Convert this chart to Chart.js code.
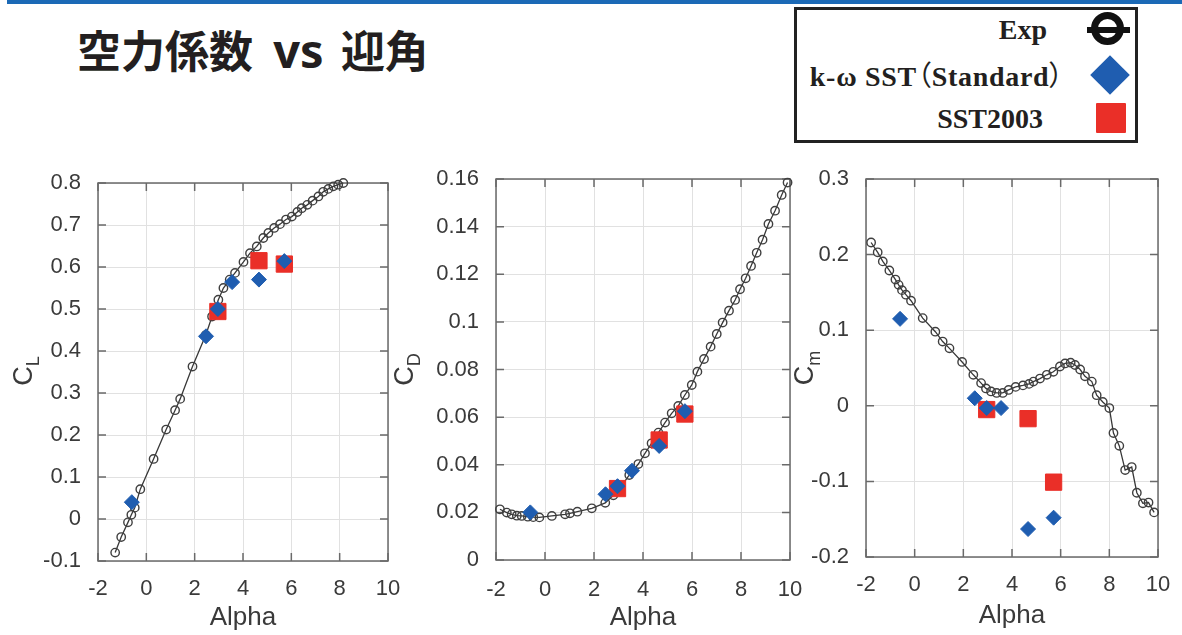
<!DOCTYPE html>
<html>
<head>
<meta charset="utf-8">
<script src="https://cdn.jsdelivr.net/npm/chart.js@4"></script>
<style>
  html, body { margin: 0; padding: 0; background: #fff; }
  body { width: 1182px; height: 635px; position: relative; overflow: hidden; }
  #topbar { position: absolute; left: 7px; top: 0; width: 1175px; height: 4px; background: #1b69b6; }
  #title { position: absolute; left: 77px; top: 27px; font-family: "Noto Sans CJK JP", sans-serif; font-weight: 700;
           font-size: 44px; line-height: 1; color: #231f20; white-space: nowrap; }
  #title .lat { font-family: "Noto Sans", sans-serif; font-size: 47px; margin-left: 8px; margin-right: 5px; }
  #legend { position: absolute; left: 794px; top: 7px; width: 338px; height: 130px; border: 3px solid #222; }
  .lg { position: absolute; font-family: "Liberation Serif", "Times New Roman", serif; font-weight: 700;
        font-size: 28px; line-height: 1; color: #231f20; white-space: nowrap; }
  .fw { font-family: "Noto Sans CJK JP", sans-serif; font-weight: 400; font-feature-settings: "palt" 1; }
  .mk { position: absolute; }
  canvas { position: absolute; }
</style>
</head>
<body>
<div id="topbar"></div>
<div id="title">空力係数<span class="lat"> vs </span>迎角</div>
<div id="legend"></div>
<div class="lg" style="right:135px; top:16px;">Exp</div>
<div class="lg" style="right:118px; top:60px; letter-spacing:0.7px;">k-ω SST<span class="fw">（</span>Standard<span class="fw">）</span></div>
<div class="lg" style="right:139px; top:105px;">SST2003</div>
<div class="mk" style="left:1091px; top:12px; width:19px; height:19px; border:7px solid #111; border-radius:50%;"></div>
<div class="mk" style="left:1087px; top:26.5px; width:43px; height:6px; background:#111;"></div>
<div class="mk" style="left:1096px; top:61px; width:28px; height:28px; background:#1f5db0; transform:rotate(45deg);"></div>
<div class="mk" style="left:1096px; top:103px; width:30px; height:30px; background:#ea2f28; border-radius:1px;"></div>

<script>
// Angle-of-attack tick values shared by the three plots
const alphaTicks = [-2, 0, 2, 4, 6, 8, 10];
const clTicks = [-0.1, 0, 0.1, 0.2, 0.3, 0.4, 0.5, 0.6, 0.7, 0.8];
const cdTicks = [0, 0.02, 0.04, 0.06, 0.08, 0.1, 0.12, 0.14, 0.16];
const cmTicks = [-0.2, -0.1, 0, 0.1, 0.2, 0.3];

// Experimental lift coefficient
const alphaExpCL = [-1.29, -1.04, -0.76, -0.62, -0.48, -0.25, 0.30, 0.82, 1.19, 1.40, 1.91, 2.46, 2.72, 2.98, 3.19,
  3.45, 3.67, 4.02, 4.29, 4.57, 4.84, 5.05, 5.29, 5.53, 5.78, 6.02, 6.25, 6.43, 6.66, 6.88, 7.12, 7.32, 7.53, 7.74, 7.94, 8.15];
const clExp = [-0.080, -0.043, -0.008, 0.010, 0.027, 0.071, 0.143, 0.213, 0.259, 0.286, 0.363, 0.438, 0.482, 0.522, 0.550,
  0.570, 0.586, 0.612, 0.633, 0.649, 0.669, 0.681, 0.693, 0.702, 0.713, 0.720, 0.731, 0.740, 0.748, 0.758, 0.768, 0.779, 0.786, 0.792, 0.796, 0.800];

// Experimental drag coefficient
const alphaExpCD = [-1.84, -1.56, -1.36, -1.15, -0.95, -0.70, -0.48, -0.23, 0.28, 0.82, 1.02, 1.32, 1.91, 2.46, 2.79,
  3.06, 3.44, 3.81, 4.08, 4.35, 4.63, 4.90, 5.17, 5.44, 5.71, 5.99, 6.22, 6.49, 6.76, 7.01, 7.25, 7.51, 7.76, 7.96,
  8.19, 8.41, 8.64, 8.88, 9.12, 9.39, 9.66, 9.90];
const cdExp = [0.0213, 0.0199, 0.0192, 0.0186, 0.0185, 0.0182, 0.0180, 0.0179, 0.0185, 0.0192, 0.0196, 0.0203, 0.0217, 0.0240, 0.0272,
  0.0301, 0.0357, 0.0403, 0.0448, 0.0490, 0.0535, 0.0577, 0.0616, 0.0647, 0.0693, 0.0735, 0.0791, 0.0844, 0.0896, 0.0949, 0.0997, 0.1047, 0.1092, 0.1137,
  0.1183, 0.1235, 0.1290, 0.1345, 0.1411, 0.1467, 0.1533, 0.1585];

// Experimental pitching-moment coefficient
const alphaExpCM = [-1.79, -1.52, -1.31, -1.04, -0.79, -0.66, -0.52, -0.36, -0.15, 0.33, 0.85, 1.15, 1.43, 1.95, 2.41,
  2.73, 2.93, 3.14, 3.37, 3.62, 3.86, 4.15, 4.45, 4.70, 4.88, 5.15, 5.43, 5.70, 5.97, 6.18, 6.41, 6.59, 6.80, 7.00,
  7.28, 7.48, 7.73, 8.00, 8.17, 8.41, 8.65, 8.92, 9.13, 9.38, 9.61, 9.84];
const cmExp = [0.216, 0.203, 0.191, 0.179, 0.167, 0.160, 0.153, 0.147, 0.139, 0.116, 0.098, 0.085, 0.076, 0.058, 0.041,
  0.030, 0.023, 0.019, 0.017, 0.017, 0.021, 0.025, 0.027, 0.029, 0.032, 0.036, 0.041, 0.045, 0.052, 0.056, 0.057, 0.054, 0.048, 0.039,
  0.032, 0.014, 0.005, -0.003, -0.036, -0.053, -0.085, -0.081, -0.115, -0.129, -0.128, -0.141];

// k-ω SST (standard) results
const alphaSST = [-0.60, 2.47, 2.96, 3.55, 4.66, 5.71];
const clSST = [0.040, 0.435, 0.500, 0.564, 0.570, 0.614];
const cdSST = [0.0200, 0.0276, 0.0310, 0.0375, 0.0479, 0.0625];
const cmSST = [0.115, 0.010, -0.003, -0.003, -0.163, -0.148];

// SST2003 results
const alpha2003 = [2.96, 4.66, 5.71];
const cl2003 = [0.494, 0.615, 0.607];
const cd2003 = [0.0300, 0.0504, 0.0613];
const cm2003 = [-0.005, -0.017, -0.101];

const INK = '#3a3a3a';
Chart.defaults.font.family = "'Liberation Sans', Arial, sans-serif";
Chart.defaults.color = INK;

const pairs = (xs, ys) => xs.map((x, i) => ({ x: x, y: ys[i] }));

// Box around the plot area with inward tick marks, plus a C_x axis title with subscript
const framePlugin = {
  id: 'frame',
  beforeDatasetsDraw(chart) {
    const { ctx, chartArea: { left, right, top, bottom }, scales: { x, y } } = chart;
    const tl = 8;
    ctx.save();
    ctx.strokeStyle = '#6a6a6a';
    ctx.lineWidth = 1.5;
    ctx.beginPath();
    x.ticks.forEach(t => {
      const px = x.getPixelForValue(t.value);
      ctx.moveTo(px, bottom); ctx.lineTo(px, bottom - tl);
      ctx.moveTo(px, top); ctx.lineTo(px, top + tl);
    });
    y.ticks.forEach(t => {
      const py = y.getPixelForValue(t.value);
      ctx.moveTo(left, py); ctx.lineTo(left + tl, py);
      ctx.moveTo(right, py); ctx.lineTo(right - tl, py);
    });
    ctx.stroke();
    ctx.strokeRect(left, top, right - left, bottom - top);
    ctx.restore();
  },
  afterDraw(chart, args, opts) {
    const ctx = chart.ctx;
    ctx.save();
    ctx.translate(opts.cx, opts.cy);
    ctx.rotate(-Math.PI / 2);
    ctx.fillStyle = INK;
    ctx.textAlign = 'left';
    ctx.textBaseline = 'alphabetic';
    const mainFont = "27px 'Liberation Sans', Arial, sans-serif";
    const subFont = "18px 'Liberation Sans', Arial, sans-serif";
    ctx.font = mainFont;
    const wm = ctx.measureText(opts.main).width;
    ctx.font = subFont;
    const ws = ctx.measureText(opts.sub).width;
    const start = -(wm + ws) / 2;
    const base = 9.7;
    ctx.font = mainFont;
    ctx.fillText(opts.main, start, base);
    ctx.font = subFont;
    ctx.fillText(opts.sub, start + wm, base + 7);
    ctx.restore();
  }
};

function buildChart(box, ticksY, rangeY, expXs, expYs, sstYs, s2003Ys, titleSub, titlePos) {
  const canvas = document.createElement('canvas');
  canvas.width = box.w; canvas.height = box.h;
  canvas.style.left = box.left + 'px'; canvas.style.top = box.top + 'px';
  canvas.style.width = box.w + 'px'; canvas.style.height = box.h + 'px';
  document.body.appendChild(canvas);

  // Invisible tick marks give the label gap without inflating the layout padding
  const gridFor = len => ({ color: '#e1e1e1', lineWidth: 1, drawTicks: true, tickLength: len, tickColor: 'rgba(0,0,0,0)' });
  return new Chart(canvas, {
    type: 'scatter',
    data: {
      datasets: [
        {
          label: 'Exp', data: pairs(expXs, expYs), showLine: true,
          borderColor: '#383838', borderWidth: 1.3,
          pointRadius: 4.2, pointBorderWidth: 1.4, pointBorderColor: '#3f3f3f',
          pointBackgroundColor: 'rgba(0,0,0,0)', order: 3
        },
        {
          label: 'k-ω SST（Standard）', data: pairs(alphaSST, sstYs), pointStyle: 'rectRot',
          pointRadius: 7.5, pointBorderWidth: 1, pointBackgroundColor: '#1f5db0', pointBorderColor: '#1f5db0', order: 1
        },
        {
          label: 'SST2003', data: pairs(alpha2003, s2003Ys), pointStyle: 'rect',
          pointRadius: 11.5, pointBorderWidth: 1, pointBackgroundColor: '#ea2f28', pointBorderColor: '#ea2f28', order: 2
        }
      ]
    },
    options: {
      responsive: false,
      animation: false,
      devicePixelRatio: 1,
      clip: false,
      layout: { padding: { left: 0, right: box.pr, top: box.pt, bottom: 0 } },
      plugins: {
        legend: { display: false },
        tooltip: { enabled: false },
        frame: { main: 'C', sub: titleSub, cx: titlePos[0], cy: titlePos[1] }
      },
      scales: {
        x: {
          type: 'linear', min: -2, max: 10,
          afterBuildTicks: s => { s.ticks = alphaTicks.map(v => ({ value: v })); },
          afterFit: s => { s.height = box.xh; },
          grid: gridFor(box.xpad - 3),
          border: { display: false },
          ticks: { padding: 3, font: { size: 22 }, color: INK, maxRotation: 0, autoSkip: false,
                   callback: v => String(v) },
          title: { display: true, text: 'Alpha', font: { size: 26 }, color: INK,
                   padding: { top: 0, bottom: box.tpad } }
        },
        y: {
          type: 'linear', min: rangeY[0], max: rangeY[1],
          afterBuildTicks: s => { s.ticks = ticksY.map(v => ({ value: v })); },
          afterFit: s => { s.width = box.yw; },
          grid: gridFor(14),
          border: { display: false },
          ticks: { padding: 3, font: { size: 22 }, color: INK, autoSkip: false,
                   callback: v => String(v) }
        }
      }
    },
    plugins: [framePlugin]
  });
}

buildChart({ left: 0, top: 160, w: 410, h: 475, pr: 22, pt: 23, yw: 98, xh: 74, xpad: 15, tpad: 1.4 },
  clTicks, [-0.1, 0.8], alphaExpCL, clExp, clSST, cl2003, 'L', [22, 211]);
buildChart({ left: 390, top: 160, w: 420, h: 475, pr: 20, pt: 19, yw: 106, xh: 75, xpad: 17, tpad: 1.4 },
  cdTicks, [0, 0.16], alphaExpCD, cdExp, cdSST, cd2003, 'D', [13.5, 209.5]);
buildChart({ left: 790, top: 160, w: 392, h: 475, pr: 24, pt: 19, yw: 76, xh: 78, xpad: 15, tpad: 3.4 },
  cmTicks, [-0.2, 0.3], alphaExpCM, cmExp, cmSST, cm2003, 'm', [13.5, 208]);
</script>
</body>
</html>
